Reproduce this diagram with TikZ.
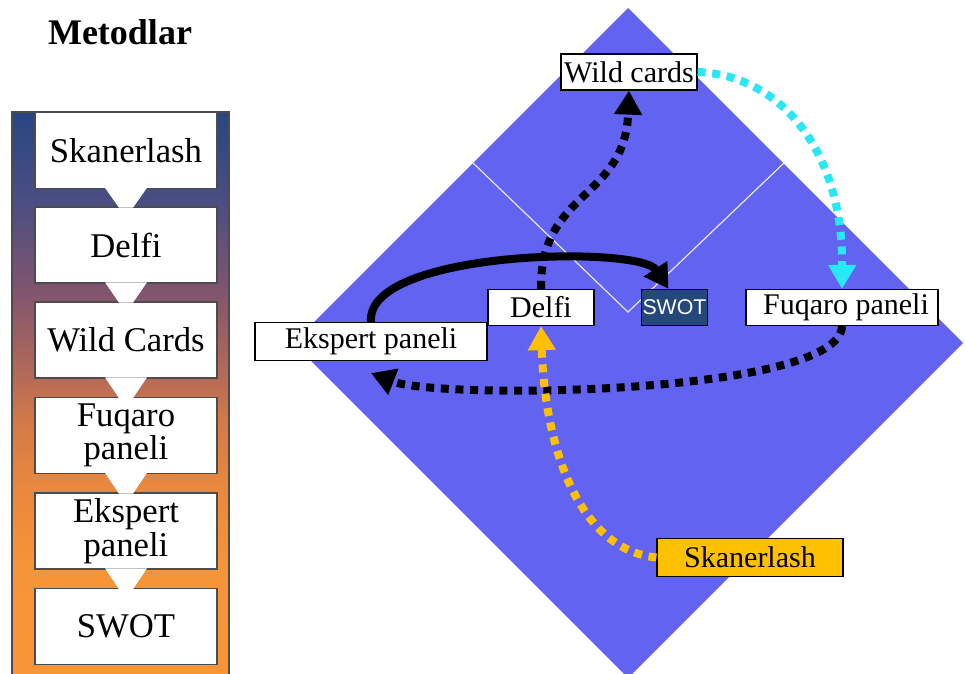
\documentclass[tikz,border=0pt]{standalone}
\usepackage{fontspec}
\setmainfont{Liberation Serif}
\newfontfamily\swotfont{Liberation Sans}
\usepackage{tikz}
\usetikzlibrary{arrows.meta}

\definecolor{diamondblue}{RGB}{99,99,242}
\definecolor{swotblue}{RGB}{36,72,122}
\definecolor{skangold}{RGB}{255,192,0}
\definecolor{wildcyan}{RGB}{40,232,245}

% Blue to mauve to orange, for the left panel
\pgfdeclareverticalshading{panelshade}{100bp}{
  rgb(0bp)=(0.973,0.588,0.216); rgb(25bp)=(0.973,0.588,0.216);
  rgb(35bp)=(0.965,0.580,0.220); rgb(42bp)=(0.910,0.530,0.243);
  rgb(47.5bp)=(0.831,0.478,0.282); rgb(51bp)=(0.725,0.424,0.333);
  rgb(59bp)=(0.510,0.333,0.431); rgb(67bp)=(0.294,0.306,0.510);
  rgb(75bp)=(0.157,0.275,0.510); rgb(100bp)=(0.157,0.275,0.510)}

\tikzset{
  label box/.style={draw=black, fill=white, line width=0.9pt, inner sep=0pt, minimum height=27pt, font=\fontsize{22.5}{24}\selectfont},
  method box/.style={draw=black!70, fill=white, line width=1pt, inner sep=0pt, minimum width=136.5pt, minimum height=57pt, align=center, font=\fontsize{26}{25}\selectfont},
  dotted link/.style={line width=6pt, dash pattern=on 6pt off 5pt, -{Triangle[length=18pt,width=20pt]}},
}

\begin{document}
\begin{tikzpicture}[x=0.75pt, y=-0.75pt]
  \useasboundingbox (0,0) rectangle (965,674);

  % Title over the left column
  \node[font=\bfseries\fontsize{27}{30}\selectfont] (title) at (120,32) {Metodlar};

  % Left panel with colour gradient
  \shade[shading=panelshade, draw=black!70, line width=1pt] (12,112) rectangle (229,676);

  % Method boxes, one under the other
  \foreach \name/\txt/\ypos in {skan/Skanerlash/150.5, delfi/Delfi/245, wild/Wild Cards/340, fuq/{Fuqaro\\paneli}/435.5, eksp/{Ekspert\\paneli}/531, swot/SWOT/626.5} {
      \node[method box] (m-\name) at (126,\ypos) {\txt};
  }

  % White funnels joining the boxes
  \foreach \a/\b in {skan/delfi, delfi/wild, wild/fuq, fuq/eksp, eksp/swot} {
      \fill[white] ([xshift=-15.75pt, yshift=1pt]m-\a.south) -- ([xshift=15.75pt, yshift=1pt]m-\a.south)
          -- ([xshift=5.25pt, yshift=-1pt]m-\b.north) -- ([xshift=-5.25pt, yshift=-1pt]m-\b.north) -- cycle;
  }

  % Corners of the big diamond
  \coordinate (T) at (628,8);     % Top
  \coordinate (R) at (963,343);   % Right
  \coordinate (B) at (628,678);   % Bottom
  \coordinate (L) at (293,343);   % Left
  \fill[diamondblue] (T) -- (R) -- (B) -- (L) -- cycle;

  % Thin white V inside the diamond
  \coordinate (IL) at (472,162);
  \coordinate (IB) at (628,312);
  \coordinate (IR) at (785,162);
  \draw[white!85!diamondblue, line width=0.9pt] (IL) -- (IB) -- (IR);

  % Labels on the diamond
  \node[label box, minimum width=102pt] (wild) at (629,72) {Wild cards};
  \node[label box, minimum width=79.5pt] (delfi) at (541,307.5) {Delfi};
  \node[label box, minimum width=50pt, fill=swotblue, text=white, font=\swotfont\fontsize{16}{18}\selectfont] (swot) at (674.5,307.5) {SWOT};
  \node[label box, minimum width=144pt] (fuqaro) at (842,307.5) {\hspace*{6pt}Fuqaro paneli};
  \node[label box, minimum width=174pt, minimum height=28.5pt] (ekspert) at (371,341.5) {Ekspert paneli};
  \node[label box, minimum width=139.5pt, minimum height=29pt, fill=skangold] (skan) at (750,557.5) {Skanerlash};

  % Arrows between the labels
  \draw[line width=6pt, -{Triangle[length=18pt,width=20pt]}] (ekspert.north) .. controls (365,250) and (640,245) .. ([xshift=-4.5pt]swot.north);
  \draw[dotted link] (delfi.north) .. controls (540,190) and (625,200) .. (wild.south);
  \draw[dotted link, wildcyan] (wild.east) .. controls (780,75) and (843,150) .. (fuqaro.north);
  \draw[dotted link] (fuqaro.south) .. controls (840,395) and (440,400) .. ([yshift=-9pt]ekspert.south);
  \draw[dotted link, skangold] (skan.west) .. controls (580,550) and (545,450) .. (delfi.south);

\end{tikzpicture}
\end{document}
